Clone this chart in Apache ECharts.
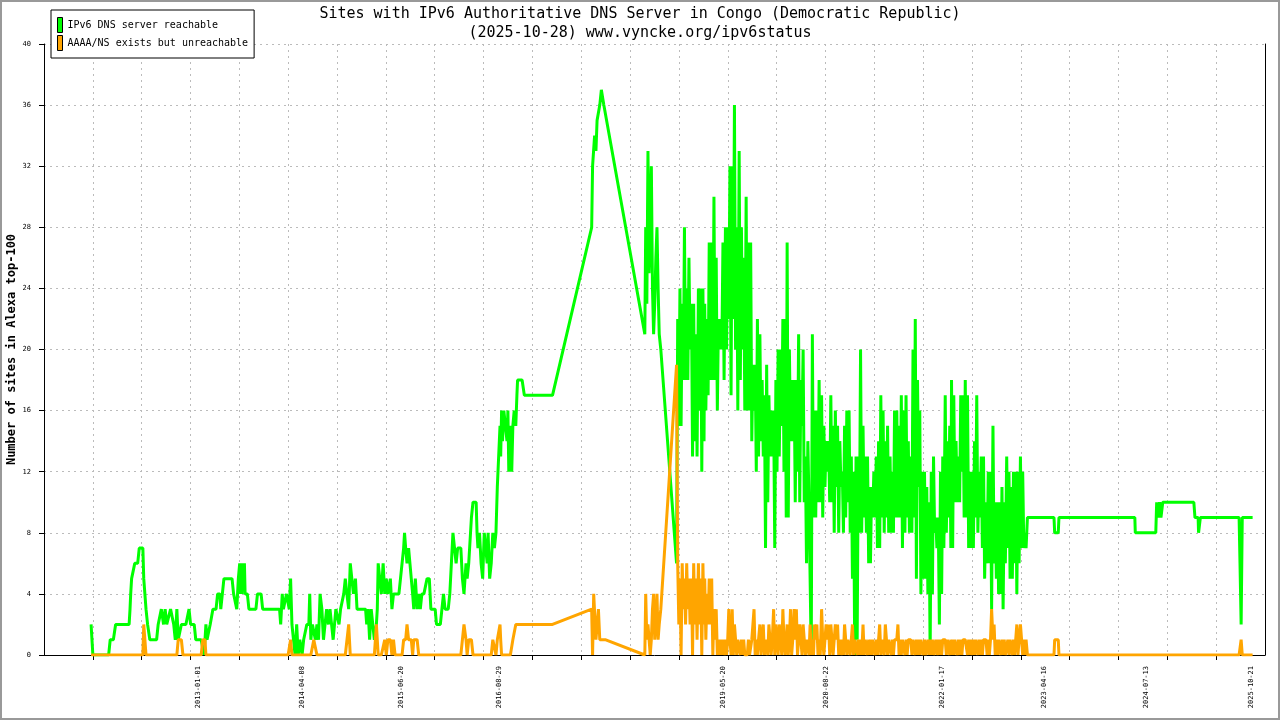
<!DOCTYPE html>
<html>
<head>
<meta charset="utf-8">
<title>IPv6 DNS - Congo (Democratic Republic)</title>
<script src="https://cdn.jsdelivr.net/npm/echarts@6.0.0/dist/echarts.min.js"></script>
<style>
  html, body { margin: 0; padding: 0; background: #fff; }
  #chart { width: 1280px; height: 720px; }
</style>
</head>
<body>
<div id="chart"></div>
<script>
// 2011-2016: slow growth, sampled where the steps change
const earlyDates = [
  '2011-09-14','2011-09-22','2011-10-15','2011-11-15','2011-12-01','2011-12-08','2011-12-22',
  '2012-01-01','2012-02-15','2012-03-01','2012-03-05','2012-03-08','2012-03-12','2012-03-19','2012-03-26','2012-04-08','2012-04-15',
  '2012-05-01','2012-05-05','2012-05-10','2012-05-15','2012-05-22','2012-05-29','2012-06-01','2012-07-01','2012-07-08','2012-07-15',
  '2012-07-22','2012-08-01','2012-08-08','2012-08-15','2012-08-22','2012-09-01','2012-09-08','2012-09-15','2012-09-22','2012-09-29',
  '2012-10-05','2012-10-12','2012-10-19','2012-10-26','2012-11-08','2012-11-15','2012-11-22','2012-11-29','2012-12-15','2012-12-22',
  '2013-01-15','2013-01-22','2013-01-27','2013-02-01','2013-02-05','2013-02-10','2013-02-17','2013-02-24','2013-03-08','2013-03-22',
  '2013-03-29','2013-04-08','2013-04-12','2013-04-19','2013-04-26','2013-06-01','2013-06-08','2013-06-15','2013-06-22','2013-06-29',
  '2013-07-05','2013-07-08','2013-07-12','2013-07-15','2013-07-19','2013-07-22','2013-07-26','2013-07-29','2013-08-08','2013-08-15',
  '2013-09-15','2013-09-22','2013-10-08','2013-10-15','2013-12-29',
  '2014-01-03','2014-01-10','2014-01-15','2014-01-22','2014-01-29','2014-02-05','2014-02-10','2014-02-16','2014-02-22','2014-03-01',
  '2014-03-08','2014-03-15','2014-03-22','2014-03-29','2014-04-08','2014-04-15','2014-04-29','2014-05-08','2014-05-12','2014-05-17',
  '2014-05-24','2014-05-30','2014-06-06','2014-06-13','2014-06-20','2014-06-27','2014-07-05','2014-07-12','2014-07-19','2014-07-26',
  '2014-08-03','2014-08-10','2014-08-17','2014-08-24','2014-09-01','2014-09-05','2014-09-12','2014-09-19','2014-09-26','2014-10-03',
  '2014-10-10','2014-10-17','2014-10-24','2014-11-01','2014-11-08','2014-11-15','2014-11-22','2014-12-01','2014-12-08',
  '2015-01-15','2015-01-20','2015-01-26','2015-02-02','2015-02-09','2015-02-16','2015-02-23','2015-03-04','2015-03-08','2015-03-12',
  '2015-03-19','2015-03-26','2015-04-03','2015-04-10','2015-04-17','2015-04-24','2015-05-05','2015-05-12','2015-05-19','2015-05-26',
  '2015-06-12','2015-06-19','2015-06-26','2015-07-03','2015-07-07','2015-07-12','2015-07-18','2015-07-25','2015-08-01','2015-08-06',
  '2015-08-12','2015-08-17','2015-08-24','2015-09-01','2015-09-08','2015-09-15','2015-09-22','2015-10-01','2015-10-15','2015-10-25',
  '2015-11-01','2015-11-20','2015-11-26','2015-12-13','2015-12-20','2015-12-27',
  '2016-01-03','2016-01-17','2016-01-24','2016-01-31','2016-02-07','2016-02-14','2016-02-21','2016-02-28','2016-03-13','2016-03-20',
  '2016-03-27','2016-04-05','2016-04-10','2016-04-17','2016-04-24','2016-04-29','2016-05-06','2016-05-20','2016-05-24','2016-05-28',
  '2016-06-04','2016-06-11','2016-06-18','2016-06-25','2016-07-02','2016-07-08','2016-07-12','2016-07-19','2016-07-26','2016-08-02',
  '2016-08-09','2016-08-16','2016-08-22','2016-08-28','2016-09-03','2016-09-06','2016-09-10','2016-09-14','2016-09-20','2016-09-27',
  '2016-10-04','2016-10-08','2016-10-12','2016-10-19','2016-10-25','2016-10-30','2016-11-05','2016-11-12','2016-11-17','2016-11-20',
  '2016-12-10','2016-12-20'
];
const earlyReach = [
  2,0,0,0,0,1,1,
  2,2,2,3,4,5,5,6,6,7, 7,5,4,3,2,2,1,1,2,2, 3,2,3,2,2,3,3,2,1,3, 1,1,2,2,2,2,3,2,2,1,
  1,1,0,1,2,1,1,2,3,3, 4,4,3,4,5,5,4,4,3,5, 6,4,6,4,6,5,6,4,4,3, 3,4,4,3,3,
  2,4,3,3,4,4,3,5,2,1, 0,2,0,1,0,1,2,2,4,1, 2,2,1,2,1,4,3,1,2,3, 2,3,2,1,1,3,3,2,3,3, 4,5,4,3,6,5,4,5,3,
  3,2,3,1,3,2,1,2,3,6, 5,4,6,4,5,4,5,3,4,4, 4,5,6,7,8,7,6,7,7,5, 4,3,5,3,4,3,4,4,5,5, 3,3,2,2,3,4,
  3,3,4,6,8,7,6,7,7,5, 4,6,5,6,6,9,10,10,8,7, 8,6,5,8,8,6,8,5,6,8, 7,8,11,13,15,13,16,14,16,15,
  14,16,12,15,12,15,16,15,17,18, 18,17
];
const earlyUnreach = [
  0,0,0,0,0,0,0,
  0,0,0,0,0,0,0,0,0,0, 0,2,1,0,0,0,0,0,0,0, 0,0,0,0,0,0,0,0,0,0, 1,1,1,0,0,0,0,0,0,0,
  0,1,1,1,0,0,0,0,0,0, 0,0,0,0,0,0,0,0,0,0, 0,0,0,0,0,0,0,0,0,0, 0,0,0,0,0,
  0,0,0,0,0,0,0,1,0,0, 0,0,0,0,0,0,0,0,0,0, 0,1,1,0,0,0,0,0,0,0, 0,0,0,0,0,0,0,0,0,0, 0,0,0,2,0,0,0,0,0,
  0,0,0,0,0,0,0,2,2,0, 0,0,0,1,0,1,1,0,1,0, 0,0,0,1,1,1,2,1,1,1, 0,1,1,1,0,0,0,0,0,0, 0,0,0,0,0,0,
  0,0,0,0,0,0,0,0,0,0, 2,1,0,1,1,1,0,0,0,0, 0,0,0,0,0,0,0,0,0,1, 1,0,1,1,2,1,0,0,0,0,
  0,0,0,0,0,1,1,2,2,2, 2,2
];

// 2017-2018: sparse collection with the big peak
const peakDates = [
  '2017-04-24','2017-10-15','2017-10-19','2017-10-24','2017-10-28','2017-11-03','2017-11-08','2017-11-14','2017-11-20','2017-11-27',
  '2017-12-02','2017-12-08','2017-12-14','2018-06-08','2018-06-12','2018-06-17','2018-06-22','2018-06-27','2018-07-02','2018-07-07',
  '2018-07-12','2018-07-17','2018-07-22','2018-07-27','2018-08-01','2018-08-06','2018-08-11','2018-08-18','2018-10-27'
];
const peakReach = [17,28,32,32,34,33,35,35,36,37, 37,36,36,21,28,23,33,25,28,32, 24,21,23,26,28,24,21,20,6];
const peakUnreach = [2,3,0,4,4,1,1,3,1,1, 1,1,1,0,4,1,2,2,0,1, 3,4,1,2,4,1,2,3,19];

// 2018-11 .. 2023-01: noisy daily data, read 6 times a month
const denseMonths = [
  '2018-11','2018-12',
  '2019-01','2019-02','2019-03','2019-04','2019-05','2019-06','2019-07','2019-08','2019-09','2019-10','2019-11','2019-12',
  '2020-01','2020-02','2020-03','2020-04','2020-05','2020-06','2020-07','2020-08','2020-09','2020-10','2020-11','2020-12',
  '2021-01','2021-02','2021-03','2021-04','2021-05','2021-06','2021-07','2021-08','2021-09','2021-10','2021-11','2021-12',
  '2022-01','2022-02','2022-03','2022-04','2022-05','2022-06','2022-07','2022-08','2022-09','2022-10','2022-11','2022-12',
  '2023-01'
];
const denseDays = ['01','06','11','16','21','26'];
const denseReach = [
  22,15,24,15,23,18,  28,18,24,18,26,20,
  23,13,23,14,21,13,  24,16,24,12,24,14,  23,16,22,17,27,18,  27,18,30,18,26,16,
  22,20,22,20,27,18,  28,20,28,22,32,17,  32,22,36,20,28,16,  33,18,28,20,26,16,
  30,16,27,16,27,14,  19,16,19,12,22,13,  21,14,18,13,17,7,   19,10,17,13,16,13,
  16,7,18,12,20,13,   20,15,22,12,22,9,   27,9,20,14,18,14,   18,10,18,12,21,10,
  18,15,20,10,13,6,   14,10,10,0,21,9,    16,9,16,10,18,10,   17,9,15,11,14,12,
  14,10,17,10,15,8,   16,11,15,8,14,11,   12,8,15,9,16,10,    16,8,13,5,12,0,
  13,1,13,8,20,8,     15,9,13,8,13,6,     11,6,11,9,12,9,     13,7,14,7,17,9,
  16,8,14,9,15,8,     13,8,12,8,16,9,     16,9,15,9,17,7,     16,8,17,9,14,8,
  13,8,20,9,22,5,     18,11,16,4,12,5,    12,5,11,4,10,0,     12,4,13,8,9,7,
  9,2,12,4,13,7,      17,8,14,9,15,7,     18,7,17,10,14,10,   13,10,17,12,17,9,
  18,9,17,7,12,7,     12,7,14,9,17,8,     12,9,13,7,13,5,     10,6,12,6,12,3,
  15,6,10,5,10,4,     10,4,11,3,10,6,     13,7,12,5,11,5,     12,6,12,4,12,6,
  13,7,12,7,8,7
];
const denseUnreach = [
  6,2,5,0,6,3,  5,2,6,3,5,2,
  5,0,6,2,5,1,  6,2,5,0,6,2,  5,1,4,2,5,2,  5,0,3,1,3,0,
  1,0,1,0,1,0,  1,0,1,3,1,0,  3,0,2,1,0,1,  1,0,1,0,1,0,
  0,0,1,0,0,1,  1,3,0,1,0,1,  2,0,1,2,0,1,  1,0,2,1,0,1,
  3,0,2,1,0,2,  1,0,3,1,0,1,  2,0,1,3,0,1,  3,1,3,0,1,2,
  1,0,2,1,0,1,  1,0,2,0,1,0,  2,1,2,0,1,0,  3,1,0,1,2,1,
  2,0,2,1,0,1,  2,1,2,0,1,0,  1,0,2,1,0,1,  1,0,1,2,0,1,
  1,0,1,0,1,0,  2,0,1,1,0,1,  0,1,0,1,1,0,  1,0,1,2,0,1,
  1,0,2,1,0,1,  1,0,1,0,1,1,  1,2,0,1,0,1,  1,0,1,0,1,1,
  1,0,1,1,0,1,  0,1,0,1,1,0,  1,0,0,1,0,1,  0,1,0,0,1,0,
  1,0,1,0,1,1,  1,0,1,1,0,1,  0,1,0,1,1,0,  1,0,1,0,1,1,
  1,1,0,1,0,1,  0,1,0,1,1,0,  1,0,1,0,1,1,  1,0,1,0,1,3,
  1,2,0,1,0,1,  1,0,1,0,1,0,  0,1,0,1,1,0,  1,0,1,2,0,1,
  2,1,0,1,0,1
];

// 2023-2025: almost flat
const lateDates = [
  '2023-02-01','2023-05-30','2023-06-02','2023-06-18','2023-06-21','2024-05-23','2024-05-25','2024-08-24','2024-08-28','2024-09-04',
  '2024-09-10','2024-09-16','2024-09-24','2025-02-09','2025-02-14','2025-02-28','2025-03-02','2025-03-08','2025-03-10','2025-08-29',
  '2025-09-02','2025-09-07','2025-09-12','2025-10-28'
];
const lateReach = [9,9,8,8,9,9,8,8,10,9, 10,9,10,10,9,9,8,8,9,9, 6,2,9,9];
const lateUnreach = [0,0,1,1,0,0,0,0,0,0, 0,0,0,0,0,0,0,0,0,0, 0,1,0,0];

const labelDates = ['2013-01-01','2014-04-08','2015-06-20','2016-08-29','2019-05-20',
  '2020-08-22','2022-01-17','2023-04-16','2024-07-13','2025-10-21'];
const axisStart = '2011-02-17';
const axisEnd = '2025-12-22';

const mono = "'DejaVu Sans Mono', monospace";

function toTime(d) {
    return echarts.time.parse(d).getTime();
}

// build [time, value] pairs
var reachData = [];
var unreachData = [];
function addPoints(dates, reach, unreach) {
    for (let i = 0; i < dates.length; i++) {
        let t = toTime(dates[i]);
        reachData.push([t, reach[i]]);
        unreachData.push([t, unreach[i]]);
    }
}
addPoints(earlyDates, earlyReach, earlyUnreach);
addPoints(peakDates, peakReach, peakUnreach);
var denseDates = [];
denseMonths.forEach(function (m) {
    denseDays.forEach(function (d) { denseDates.push(m + '-' + d); });
});
addPoints(denseDates, denseReach, denseUnreach);
addPoints(lateDates, lateReach, lateUnreach);

var t0 = toTime(axisStart);
var t1 = toTime(axisEnd);
// the grid is cut into 25 equal slices
var tickValues = [];
for (let k = 1; k < 25; k++) {
    tickValues.push(t0 + (t1 - t0) * k / 25);
}
var labelValues = labelDates.map(toTime);

var myChart = echarts.init(document.getElementById('chart'));
var option = {
    animation: false,
    backgroundColor: '#fff',
    title: {
        text: 'Sites with IPv6 Authoritative DNS Server in Congo (Democratic Republic)\n(2025-10-28) www.vyncke.org/ipv6status',
        left: 'center',
        top: 0,
        textStyle: { fontFamily: mono, fontSize: 15, fontWeight: 'normal', color: '#000', lineHeight: 19 }
    },
    legend: {
        orient: 'vertical',
        left: 51,
        top: 10,
        padding: [7, 6, 7, 6],
        itemGap: 2,
        itemWidth: 5,
        itemHeight: 15,
        icon: 'rect',
        selectedMode: false,
        backgroundColor: '#fff',
        borderColor: '#000',
        borderWidth: 1,
        itemStyle: { borderColor: '#000', borderWidth: 1 },
        textStyle: { fontFamily: mono, fontSize: 10, color: '#000' },
        data: ['IPv6 DNS server reachable', 'AAAA/NS exists but unreachable']
    },
    grid: { left: 44, right: 15, top: 44, bottom: 65, containLabel: false, outerBoundsMode: 'none' },
    xAxis: {
        type: 'value',
        min: t0,
        max: t1,
        axisLine: { lineStyle: { color: '#000', width: 1 } },
        axisTick: { show: true, customValues: tickValues, length: 5, lineStyle: { color: '#000' } },
        axisLabel: {
            customValues: labelValues,
            rotate: 90,
            margin: 11,
            fontFamily: mono,
            fontSize: 7,
            color: '#000',
            formatter: function (v) { return echarts.time.format(v, '{yyyy}-{MM}-{dd}', false); }
        },
        splitLine: { show: true, lineStyle: { color: '#bbb', type: [2, 4], width: 1 } }
    },
    yAxis: [
        {
            type: 'value',
            min: 0,
            max: 40,
            interval: 4,
            name: 'Number of sites in Alexa top-100',
            nameLocation: 'middle',
            nameRotate: 90,
            nameGap: 26,
            nameMoveOverlap: false,
            nameTextStyle: { fontFamily: mono, fontSize: 12, fontWeight: 'bold', color: '#000' },
            axisLine: { show: true, lineStyle: { color: '#000', width: 1 } },
            axisTick: { show: true, length: 5, lineStyle: { color: '#000' } },
            axisLabel: { fontFamily: mono, fontSize: 7, color: '#000', margin: 13 },
            splitLine: { show: true, lineStyle: { color: '#bbb', type: [2, 4], width: 1 } }
        },
        {
            type: 'value',
            min: 0,
            max: 40,
            interval: 4,
            position: 'right',
            axisLine: { show: true, lineStyle: { color: '#000', width: 1 } },
            axisTick: { show: false },
            axisLabel: { show: false },
            splitLine: { show: false }
        }
    ],
    graphic: [{
        type: 'rect',
        silent: true,
        shape: { x: 1, y: 1, width: 1278, height: 718 },
        style: { fill: 'none', stroke: '#999', lineWidth: 2 }
    }],
    series: [
        {
            name: 'IPv6 DNS server reachable',
            type: 'line',
            yAxisIndex: 0,
            data: reachData,
            showSymbol: false,
            symbol: 'none',
            color: '#00ff00',
            lineStyle: { color: '#00ff00', width: 3 },
            z: 2
        },
        {
            name: 'AAAA/NS exists but unreachable',
            type: 'line',
            yAxisIndex: 0,
            data: unreachData,
            showSymbol: false,
            symbol: 'none',
            color: '#ffa500',
            lineStyle: { color: '#ffa500', width: 3 },
            z: 3
        }
    ]
};
myChart.setOption(option);
</script>
</body>
</html>
